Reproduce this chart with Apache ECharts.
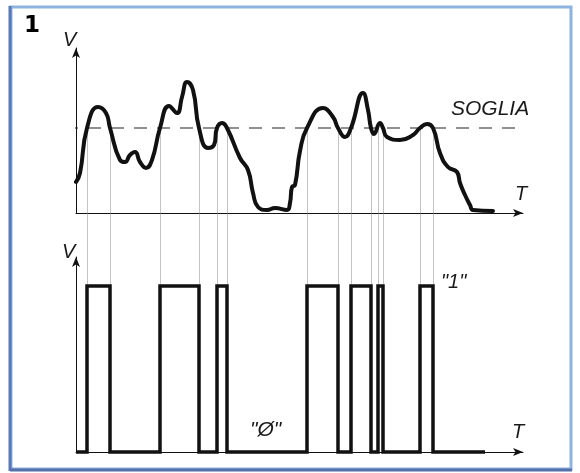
<!DOCTYPE html>
<html>
<head>
<meta charset="utf-8">
<script src="https://cdn.jsdelivr.net/npm/echarts@6/dist/echarts.min.js"></script>
<style>
html,body{margin:0;padding:0;background:#fff;}
#c{width:580px;height:473px;}
</style>
</head>
<body>
<div id="c"></div>
<script>
// Analog signal (time, voltage)
var curveT = [0,4,11,22,30,34,44,49,54,59,64,70,76,84,93,101,106,111,117,123,132,138,141,146,151,164,172,177,182,191,199,211,214,216,219,224,231,247,257,262,269,275,287,292,295,298,304,307,311,324,337,344,351,357,364,372,381,384,389,394,397,417];
var curveV = [31,40,85,106,100,85,53,51,58,61,51,45,53,85,107,100,116,131,123,85,65,68,85,90,85,55,43,20,6,3,5,3,10,26,28,62,85,105,96,85,76,85,120,103,85,79,90,85,76,73,78,85,89,85,60,46,41,30,18,8,3,2];
var threshold = 85;
// Threshold crossing times (edges of the digital pulses)
var crossings = [11,34,84,123,141,151,231,262,275,295,302,307,344,357];
var digitalHigh = 166;
var digitalLow = 0;
var digitalEnd = 409;

var curveData = curveT.map(function(t,i){return [t, curveV[i]];});
var pulseData = [[0, digitalLow]];
var level = digitalLow;
crossings.forEach(function(t){
  pulseData.push([t, level]);
  level = (level === digitalLow) ? digitalHigh : digitalLow;
  pulseData.push([t, level]);
});
pulseData.push([digitalEnd, level]);

var topLines = crossings.map(function(t){return {coords:[[t, threshold],[t, 0]]};});
var midLines = crossings.map(function(t){return {coords:[[t, 1],[t, 0]]};});
var botLines = crossings.map(function(t){return {coords:[[t, 195],[t, 0]]};});

var chart = echarts.init(document.getElementById('c'), null, {renderer:'canvas'});
var axisStyle = {show:true, onZero:true, symbol:['none','arrow'], symbolSize:[6,10], lineStyle:{color:'#111', width:1}};
var thin = {color:'#8a8a8a', width:1};
var italic = {fontFamily:'Liberation Sans', fontStyle:'italic', fill:'#1a1a1a'};

chart.setOption({
  animation:false,
  backgroundColor:'#ffffff',
  grid:[
    {left:76, top:48, width:447, height:165},
    {left:76, top:213, width:447, height:44},
    {left:76, top:257, width:447, height:195}
  ],
  xAxis:[
    {gridIndex:0, type:'value', min:0, max:447, axisLine:axisStyle, axisTick:{show:false}, axisLabel:{show:false}, splitLine:{show:false}},
    {gridIndex:1, type:'value', min:0, max:447, show:false},
    {gridIndex:2, type:'value', min:0, max:447, axisLine:axisStyle, axisTick:{show:false}, axisLabel:{show:false}, splitLine:{show:false}}
  ],
  yAxis:[
    {gridIndex:0, type:'value', min:0, max:165, axisLine:axisStyle, axisTick:{show:false}, axisLabel:{show:false}, splitLine:{show:false}},
    {gridIndex:1, type:'value', min:0, max:1, show:false},
    {gridIndex:2, type:'value', min:0, max:195, axisLine:axisStyle, axisTick:{show:false}, axisLabel:{show:false}, splitLine:{show:false}}
  ],
  series:[
    {type:'lines', coordinateSystem:'cartesian2d', xAxisIndex:0, yAxisIndex:0, data:topLines, lineStyle:thin, silent:true},
    {type:'lines', coordinateSystem:'cartesian2d', xAxisIndex:1, yAxisIndex:1, data:midLines, lineStyle:thin, silent:true},
    {type:'lines', coordinateSystem:'cartesian2d', xAxisIndex:2, yAxisIndex:2, data:botLines, lineStyle:thin, silent:true},
    {type:'line', xAxisIndex:0, yAxisIndex:0, data:[[-11, threshold],[471, threshold]], clip:false, showSymbol:false,
      lineStyle:{color:'#222', width:1.2, type:[13,10]}},
    {type:'line', xAxisIndex:0, yAxisIndex:0, data:curveData, smooth:0.5, showSymbol:false, clip:false,
      lineStyle:{color:'#111', width:4, join:'round', cap:'round'}},
    {type:'line', xAxisIndex:2, yAxisIndex:2, data:pulseData, showSymbol:false, clip:false,
      lineStyle:{color:'#111', width:3.5, join:'miter'}}
  ],
  graphic:[
    {type:'rect', shape:{x:11, y:7, width:560, height:462}, style:{fill:'none', stroke:'#8fb3df', lineWidth:3}, silent:true},
    {type:'line', shape:{x1:10, y1:6, x2:10, y2:471}, style:{stroke:'#5a77b7', lineWidth:3}, silent:true},
    {type:'line', shape:{x1:10, y1:470, x2:572, y2:470}, style:{stroke:'#5570ac', lineWidth:3}, silent:true},
    {type:'text', left:24, top:15, style:{text:'1', font:'900 23px "DejaVu Sans"', fill:'#000'}},
    {type:'text', left:63, top:30, style:Object.assign({text:'V', fontSize:20}, italic)},
    {type:'text', left:515, top:184, style:Object.assign({text:'T', fontSize:20}, italic)},
    {type:'text', left:451, top:99, style:Object.assign({text:'SOGLIA', fontSize:21}, italic)},
    {type:'text', left:62, top:242, style:Object.assign({text:'V', fontSize:20}, italic)},
    {type:'text', left:512, top:422, style:Object.assign({text:'T', fontSize:20}, italic)},
    {type:'text', left:441, top:272, style:Object.assign({text:'"1"', fontSize:20}, italic)},
    {type:'text', left:250, top:420, style:Object.assign({text:'"Ø"', fontSize:21}, italic)}
  ]
});
</script>
</body>
</html>
